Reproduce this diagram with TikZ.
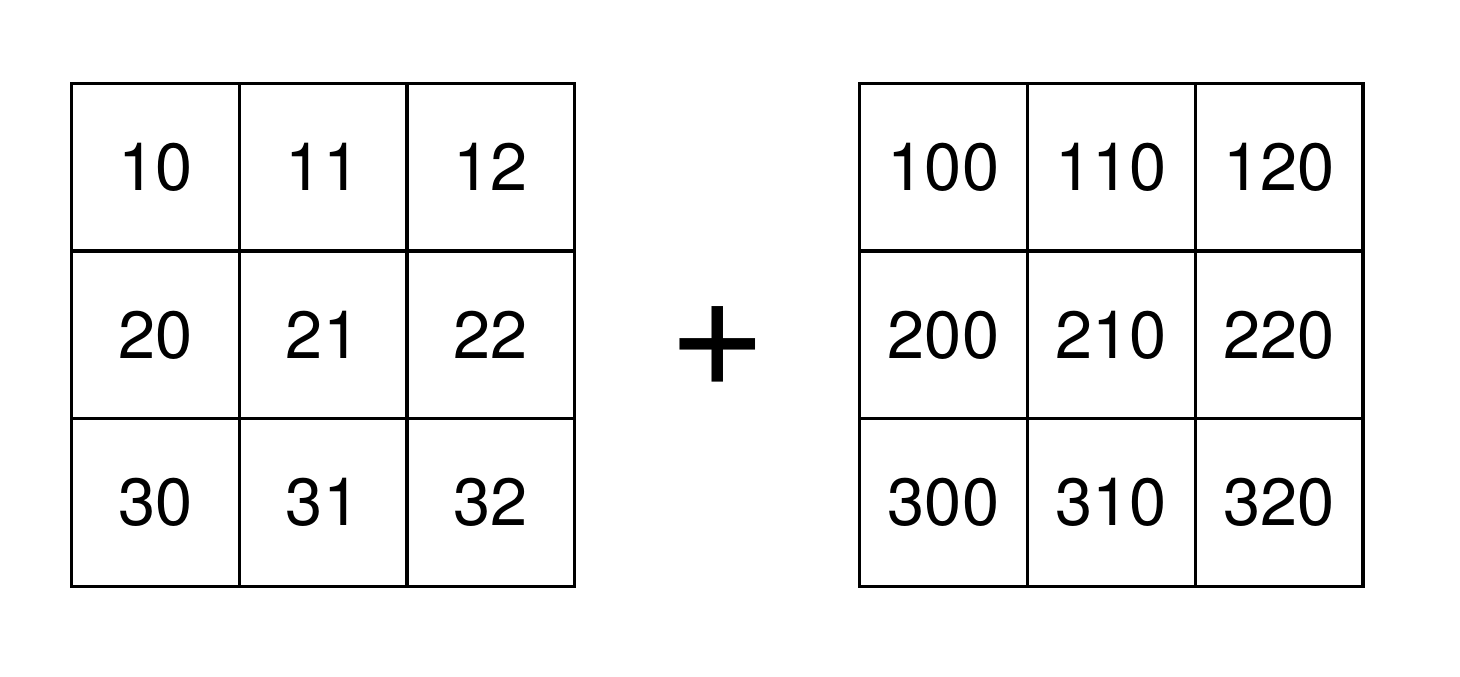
\documentclass[tikz,border=0pt]{standalone}
\usepackage{fontspec}
\setmainfont{TeX Gyre Heros}
\tikzset{
  cell/.style={draw, line width=1.9pt, minimum size=3.356cm, inner sep=0pt,
    font=\fontsize{38}{40}\selectfont},
  plussign/.style={inner sep=0pt, font=\fontsize{96}{96}\selectfont}
}
\begin{document}
\begin{tikzpicture}[x=0.02cm,y=-0.02cm]
\useasboundingbox (0,0) rectangle (1460,676);
% left matrix
\node[cell] (a11) at (155.3,167.1) {10};
\node[cell] (a12) at (323.1,167.1) {11};
\node[cell] (a13) at (490.9,167.1) {12};
\node[cell] (a21) at (155.3,334.9) {20};
\node[cell] (a22) at (323.1,334.9) {21};
\node[cell] (a23) at (490.9,334.9) {22};
\node[cell] (a31) at (155.3,502.7) {30};
\node[cell] (a32) at (323.1,502.7) {31};
\node[cell] (a33) at (490.9,502.7) {32};
% plus
\node[plussign] (plus) at (718,347) {+};
% right matrix
\node[cell] (b11) at (943.5,167.1) {100};
\node[cell] (b12) at (1111.3,167.1) {110};
\node[cell] (b13) at (1279.1,167.1) {120};
\node[cell] (b21) at (943.5,334.9) {200};
\node[cell] (b22) at (1111.3,334.9) {210};
\node[cell] (b23) at (1279.1,334.9) {220};
\node[cell] (b31) at (943.5,502.7) {300};
\node[cell] (b32) at (1111.3,502.7) {310};
\node[cell] (b33) at (1279.1,502.7) {320};
\end{tikzpicture}
\end{document}
